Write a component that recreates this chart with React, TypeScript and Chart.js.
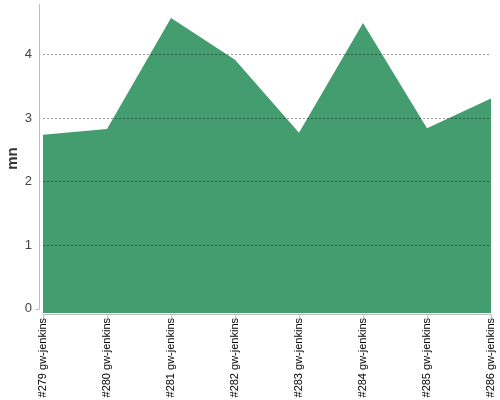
import React, { useEffect, useRef } from "react";
import { Chart, registerables } from "chart.js";

Chart.register(...registerables);

const categories = [
  "#279 gw-jenkins",
  "#280 gw-jenkins",
  "#281 gw-jenkins",
  "#282 gw-jenkins",
  "#283 gw-jenkins",
  "#284 gw-jenkins",
  "#285 gw-jenkins",
  "#286 gw-jenkins",
];
const durations = [2.74, 2.83, 4.58, 3.92, 2.77, 4.5, 2.84, 3.31];
const yTickValues = [0, 1, 2, 3, 4];
const yTitle = "mn";

const axisLines = {
  id: "axisLines",
  afterDraw(chart: any) {
    const { ctx, chartArea, scales } = chart;
    const x = scales.x;
    const y = scales.y;
    const y0 = Math.round(y.getPixelForValue(0)) + 0.5;
    const axX = chartArea.left - 3.5;
    const axY = Math.round(chartArea.bottom) + 1.5;
    ctx.save();
    ctx.strokeStyle = "#bdbdbd";
    ctx.lineWidth = 1;
    ctx.beginPath();
    ctx.moveTo(axX, chartArea.top);
    ctx.lineTo(axX, y0);
    ctx.moveTo(axX - 4, y0);
    ctx.lineTo(axX, y0);
    ctx.moveTo(chartArea.left, axY);
    ctx.lineTo(chartArea.right, axY);
    for (let i = 0; i < categories.length; i++) {
      const px = Math.round(x.getPixelForValue(i)) + 0.5;
      ctx.moveTo(px, axY);
      ctx.lineTo(px, axY + 4);
    }
    ctx.stroke();
    ctx.restore();
  },
};

const noPad = (s: any) => {
  s.paddingTop = 0;
  s.paddingBottom = 0;
  s.paddingLeft = 0;
  s.paddingRight = 0;
};

export default function App() {
  const ref = useRef<HTMLCanvasElement>(null);
  useEffect(() => {
    document.body.style.margin = "0";
    const chart = new Chart(ref.current!, {
      type: "line",
      data: {
        labels: categories,
        datasets: [
          {
            data: durations,
            fill: "start",
            backgroundColor: "#449d6e",
            borderColor: "#449d6e",
            borderWidth: 0,
            pointRadius: 0,
            tension: 0,
          },
        ],
      },
      options: {
        animation: false,
        responsive: false,
        layout: { padding: { top: 4, right: 9, left: 0, bottom: 0 } },
        plugins: { legend: { display: false }, tooltip: { enabled: false } },
        scales: {
          x: {
            offset: false,
            grid: { display: false, drawTicks: false },
            border: { display: false },
            ticks: {
              autoSkip: false,
              maxRotation: 90,
              minRotation: 90,
              padding: 5,
              color: "#000",
              font: { family: "Liberation Sans", size: 11 },
            },
            afterFit: (s: any) => {
              s.height = 87;
              noPad(s);
            },
          },
          y: {
            min: -0.07,
            max: 4.8,
            afterBuildTicks: (s: any) => {
              s.ticks = yTickValues.map((v) => ({ value: v }));
            },
            ticks: {
              includeBounds: false,
              stepSize: 1,
              padding: 11,
              color: "#444",
              font: { family: "Liberation Sans", size: 13 },
            },
            grid: {
              z: 1,
              drawTicks: false,
              color: (c: any) => (c.tick && c.tick.value === 0 ? "rgba(0,0,0,0)" : "rgba(0,0,0,0.4)"),
              lineWidth: 1,
            },
            border: { display: false, dash: [2, 2] },
            title: {
              display: true,
              text: yTitle,
              color: "#333",
              padding: 4,
              font: { family: "Liberation Sans", size: 15, weight: "bold" },
            },
            afterFit: (s: any) => {
              s.width = 43;
              noPad(s);
            },
          },
        },
      },
      plugins: [axisLines],
    } as any);
    return () => chart.destroy();
  }, []);
  return (
    <div style={{ width: 500, height: 400 }}>
      <canvas ref={ref} width={500} height={400} style={{ display: "block" }} />
    </div>
  );
}
